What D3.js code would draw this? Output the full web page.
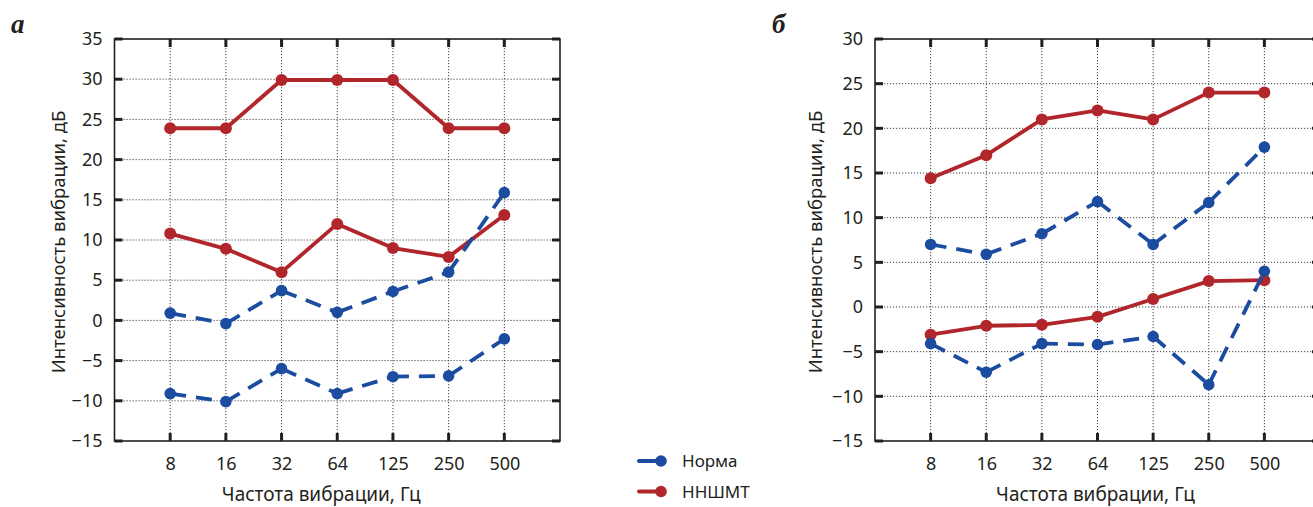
<!DOCTYPE html>
<html>
<head>
<meta charset="utf-8">
<script src="https://cdn.jsdelivr.net/npm/d3@7"></script>
<style>
    body { margin: 0; background: #fff; }
    svg { display: block; font-family: "Noto Sans", sans-serif; }
</style>
</head>
<body>
<div id="chart"></div>
<script>
// frequencies (x categories)
var freqs = ["8", "16", "32", "64", "125", "250", "500"];

// panel а
var normaA1 = [0.9, -0.4, 3.7, 1.0, 3.6, 6.0, 15.9];
var normaA2 = [-9.1, -10.1, -6.0, -9.1, -7.0, -6.9, -2.3];
var nnshmtA1 = [23.9, 23.9, 29.9, 29.9, 29.9, 23.9, 23.9];
var nnshmtA2 = [10.8, 8.9, 6.0, 12.0, 9.0, 7.9, 13.1];
var yTicksA = [-15, -10, -5, 0, 5, 10, 15, 20, 25, 30, 35];

// panel б
var normaB1 = [7.0, 5.9, 8.2, 11.8, 7.0, 11.7, 17.9];
var normaB2 = [-4.1, -7.3, -4.1, -4.2, -3.3, -8.7, 4.0];
var nnshmtB1 = [14.4, 17.0, 21.0, 22.0, 21.0, 24.0, 24.0];
var nnshmtB2 = [-3.1, -2.1, -2.0, -1.1, 0.9, 2.9, 3.0];
var yTicksB = [-15, -10, -5, 0, 5, 10, 15, 20, 25, 30];

var legendNames = ["Норма", "ННШМТ"];

var BLUE = "#1b4c9f";
var RED = "#b0262b";

var svg = d3.select("#chart").append("svg")
    .attr("width", 1313)
    .attr("height", 507);

function fmt(d) {
    return d < 0 ? "\u2212" + Math.abs(d) : String(d);
}

function drawPanel(opt) {
    var x = d3.scalePoint().domain(freqs).range([opt.left, opt.right]).padding(1);
    var y = d3.scaleLinear().domain(opt.yDomain).range([441, 39]);
    var g = svg.append("g");

    // dotted grid
    g.selectAll(".hgrid")
        .data(opt.yTicks.slice(1, -1))
        .enter().append("line")
        .attr("x1", opt.left).attr("x2", opt.right)
        .attr("y1", function (d) { return y(d); })
        .attr("y2", function (d) { return y(d); })
        .style("stroke", "#444")
        .style("stroke-width", 1)
        .style("stroke-dasharray", "1.2,1.8");
    g.selectAll(".vgrid")
        .data(freqs)
        .enter().append("line")
        .attr("x1", function (d) { return x(d); })
        .attr("x2", function (d) { return x(d); })
        .attr("y1", y.range()[1]).attr("y2", y.range()[0])
        .style("stroke", "#444")
        .style("stroke-width", 1)
        .style("stroke-dasharray", "1.2,1.8");

    // inner thick ticks
    var tk = 8;
    opt.yTicks.forEach(function (v) {
        g.append("line").attr("x1", opt.left).attr("x2", opt.left + tk)
            .attr("y1", y(v)).attr("y2", y(v));
        g.append("line").attr("x1", opt.right - tk).attr("x2", opt.right)
            .attr("y1", y(v)).attr("y2", y(v));
    });
    freqs.forEach(function (f) {
        g.append("line").attr("x1", x(f)).attr("x2", x(f))
            .attr("y1", y.range()[0]).attr("y2", y.range()[0] - tk);
        g.append("line").attr("x1", x(f)).attr("x2", x(f))
            .attr("y1", y.range()[1]).attr("y2", y.range()[1] + tk);
    });
    g.selectAll("line:not([style])")
        .style("stroke", "#231f20")
        .style("stroke-width", 3);

    // frame
    g.append("rect")
        .attr("x", opt.left).attr("y", y.range()[1])
        .attr("width", opt.right - opt.left)
        .attr("height", y.range()[0] - y.range()[1])
        .style("fill", "none")
        .style("stroke", "#231f20")
        .style("stroke-width", 1.6);

    // axes labels
    var ay = g.append("g")
        .attr("transform", "translate(" + opt.left + ",0)")
        .call(d3.axisLeft(y).tickValues(opt.yTicks).tickSize(0).tickPadding(12).tickFormat(fmt));
    var ax = g.append("g")
        .attr("transform", "translate(0," + y.range()[0] + ")")
        .call(d3.axisBottom(x).tickSize(0).tickPadding(16));
    [ay, ax].forEach(function (a) {
        a.select(".domain").remove();
        a.selectAll("text")
            .style("font-family", "'Noto Sans', sans-serif")
            .style("font-size", "18px")
            .style("fill", "#231f20");
    });

    g.append("text")
        .attr("x", (opt.left + opt.right) / 2 + opt.xTitleShift)
        .attr("y", 501)
        .attr("text-anchor", "middle")
        .style("font-size", "19px")
        .style("fill", "#231f20")
        .text("Частота вибрации, Гц");

    g.append("text")
        .attr("transform", "translate(" + (opt.left - opt.yTitleGap) + ",242) rotate(-90)")
        .attr("text-anchor", "middle")
        .style("font-size", "18.5px")
        .style("fill", "#231f20")
        .text("Интенсивность вибрации, дБ");

    g.append("text")
        .attr("x", opt.labelX)
        .attr("y", 33)
        .style("font-family", "'Liberation Serif', serif")
        .style("font-style", "italic")
        .style("font-weight", "bold")
        .style("font-size", "27px")
        .style("fill", "#231f20")
        .text(opt.label);

    // series: red first, blue on top
    var line = d3.line()
        .x(function (d, i) { return x(freqs[i]); })
        .y(function (d) { return y(d); });

    opt.red.forEach(function (s) {
        g.append("path")
            .datum(s)
            .attr("d", line)
            .style("fill", "none")
            .style("stroke", RED)
            .style("stroke-width", 3.8)
            .style("stroke-linejoin", "round");
        g.selectAll(null).data(s).enter().append("circle")
            .attr("cx", function (d, i) { return x(freqs[i]); })
            .attr("cy", function (d) { return y(d); })
            .attr("r", 6)
            .style("fill", RED);
    });

    opt.blue.forEach(function (s) {
        var segs = d3.pairs(s.map(function (d, i) { return [x(freqs[i]), y(d)]; }));
        g.selectAll(null).data(segs).enter().append("line")
            .attr("x1", function (d) { return d[0][0]; })
            .attr("y1", function (d) { return d[0][1]; })
            .attr("x2", function (d) { return d[1][0]; })
            .attr("y2", function (d) { return d[1][1]; })
            .style("stroke", BLUE)
            .style("stroke-width", 3.8)
            .style("stroke-dasharray", "16,10");
        g.selectAll(null).data(s).enter().append("circle")
            .attr("cx", function (d, i) { return x(freqs[i]); })
            .attr("cy", function (d) { return y(d); })
            .attr("r", 5.8)
            .style("fill", BLUE);
    });
}

drawPanel({
    left: 114.5, right: 560, yDomain: [-15, 35], yTicks: yTicksA,
    red: [nnshmtA1, nnshmtA2], blue: [normaA1, normaA2],
    label: "а", labelX: 11, xTitleShift: -16, yTitleGap: 50
});

drawPanel({
    left: 875, right: 1320, yDomain: [-15, 30], yTicks: yTicksB,
    red: [nnshmtB1, nnshmtB2], blue: [normaB1, normaB2],
    label: "б", labelX: 772, xTitleShift: -2, yTitleGap: 53
});

// legend
var legend = svg.append("g");
var legendColors = [BLUE, RED];
legend.selectAll("line")
    .data(legendNames)
    .enter().append("line")
    .attr("x1", 639).attr("x2", 661)
    .attr("y1", function (d, i) { return 461 + i * 30.5; })
    .attr("y2", function (d, i) { return 461 + i * 30.5; })
    .style("stroke", function (d, i) { return legendColors[i]; })
    .style("stroke-width", 4)
    .style("stroke-linecap", "round");
legend.selectAll("circle")
    .data(legendNames)
    .enter().append("circle")
    .attr("cx", 661)
    .attr("cy", function (d, i) { return 461 + i * 30.5; })
    .attr("r", 5.8)
    .style("fill", function (d, i) { return legendColors[i]; });
legend.selectAll("text")
    .data(legendNames)
    .enter().append("text")
    .attr("x", 682)
    .attr("y", function (d, i) { return 467 + i * 30.5; })
    .style("font-size", "17px")
    .style("fill", "#231f20")
    .text(function (d) { return d; });
</script>
</body>
</html>
